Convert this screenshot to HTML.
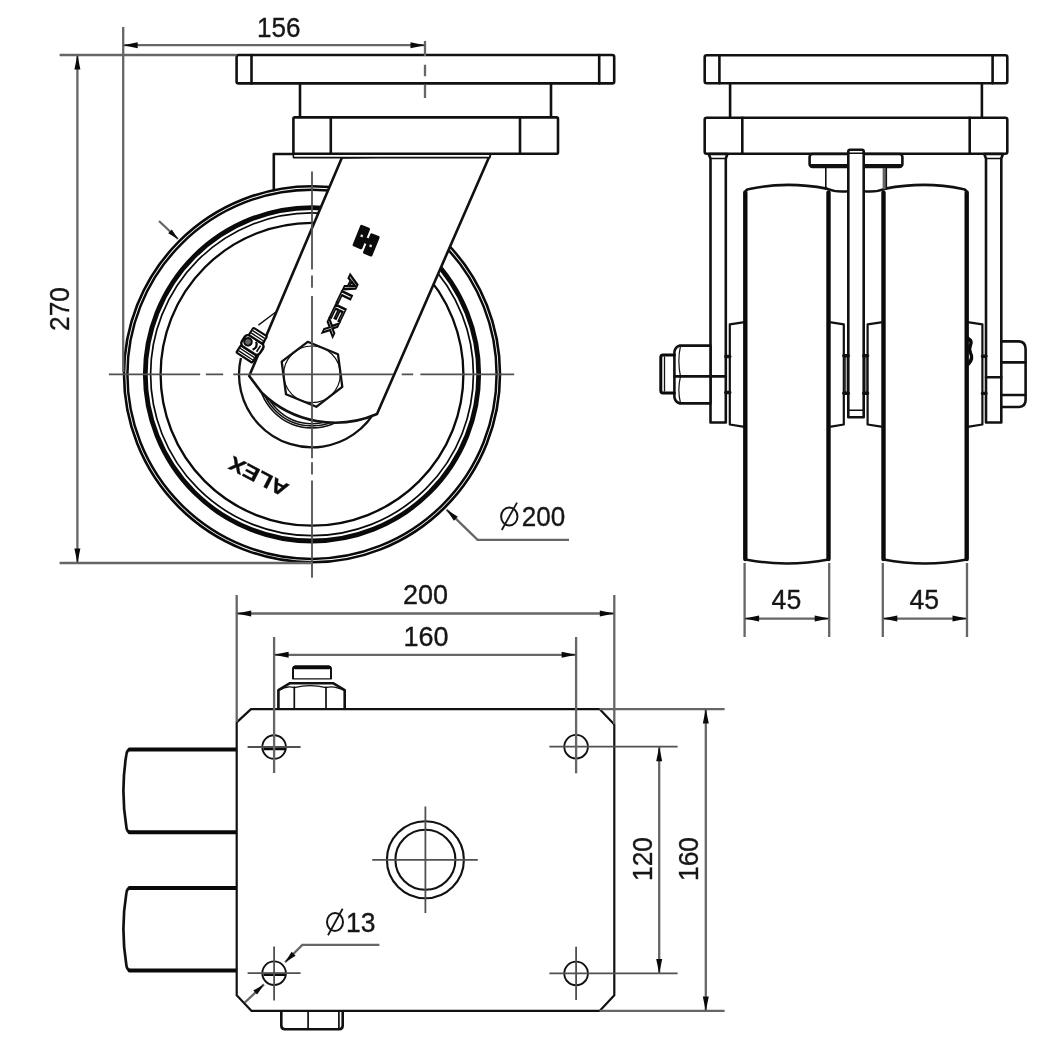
<!DOCTYPE html>
<html><head><meta charset="utf-8"><title>Caster drawing</title>
<style>
html,body{margin:0;padding:0;background:#fff;}
body{width:1042px;height:1060px;overflow:hidden;font-family:"Liberation Sans",sans-serif;}
svg{display:block;filter:grayscale(1) blur(0.45px);}
.m{fill:none;stroke:#111;stroke-width:2.6;stroke-linejoin:round;stroke-linecap:round;}
.mw{fill:#fff;stroke:#111;stroke-width:2.6;stroke-linejoin:round;}
.k{fill:none;stroke:#0a0a0a;stroke-width:3.2;stroke-linecap:round;stroke-linejoin:round;}
.t{fill:none;stroke:#111;stroke-width:1.4;}
.d{fill:none;stroke:#666;stroke-width:2.3;}
.c{fill:none;stroke:#505050;stroke-width:1.8;}
.ah{fill:#0a0a0a;stroke:none;}
text{font-family:"Liberation Sans",sans-serif;fill:#161616;stroke:#161616;stroke-width:0.35px;}
.n{font-size:27px;}
</style></head><body>
<svg width="1042" height="1060" viewBox="0 0 1042 1060">
<rect width="1042" height="1060" fill="#fff"/>

<g id="side">
<path class="m" d="M293.4,154 H273.8 V190"/>
<circle cx="312.0" cy="374.3" r="188.0" fill="none" stroke="#0a0a0a" stroke-width="2.6"/>
<circle cx="312.0" cy="374.3" r="184.6" fill="none" stroke="#0a0a0a" stroke-width="2.5"/>
<circle cx="312.0" cy="374.3" r="166.7" fill="none" stroke="#0a0a0a" stroke-width="4.8"/>
<circle cx="312.0" cy="374.3" r="161.4" fill="none" stroke="#0a0a0a" stroke-width="1.7"/>
<circle cx="312.0" cy="374.3" r="151.4" fill="none" stroke="#0a0a0a" stroke-width="2.3"/>
<path d="M240.9,357.9 A73,73 0 1 0 375.2,337.8" fill="none" stroke="#111" stroke-width="2.3"/>
<circle cx="312.0" cy="374.3" r="49.5" fill="none" stroke="#111" stroke-width="1.6"/>
<circle cx="312.0" cy="374.3" r="51.6" fill="none" stroke="#111" stroke-width="1.6"/>
<circle cx="312.0" cy="374.3" r="53.6" fill="none" stroke="#111" stroke-width="1.6"/>
<path class="t" d="M258.4,325.1 L275.5,312.2"/>
<path class="mw" d="M342,157.5 L249.2,376 L262,393 A105,105 0 0 0 377,414 L490.2,154.5 Z"/>
<rect class="mw" x="293.4" y="154" width="196.5" height="3.6" style="stroke-width:1.6px"/>
<rect class="mw" x="236.6" y="55" width="377.6" height="28.4" rx="2"/>
<path class="m" d="M251.5,55 V83.4 M599.2,55 V83.4"/>
<path class="m" d="M300,83.4 V117.4 M551,83.4 V117.4"/>
<rect class="mw" x="293.4" y="117.4" width="264.6" height="36.4" rx="1.5"/>
<path class="m" d="M330.8,117.4 V153.8 M520,117.4 V153.8"/>
<polygon class="mw" style="stroke-width:2.3px" points="307.7,341.8 338.0,354.3 342.3,386.9 316.3,406.8 286.0,394.3 281.7,361.7"/>
<circle cx="312.0" cy="374.3" r="28.3" fill="none" stroke="#111" stroke-width="1.2"/>
<g transform="translate(254,342.5) rotate(-57) scale(0.9)">
<rect x="-20" y="-10.5" width="9.5" height="21" rx="1.5" fill="#fff" stroke="#0a0a0a" stroke-width="2.4"/>
<path d="M-17,-9.5 V9.5 M-13.8,-9.5 V9.5" stroke="#0a0a0a" stroke-width="1.5"/>
<rect x="-10.5" y="-12" width="14.5" height="24" rx="4.5" fill="#fff" stroke="#0a0a0a" stroke-width="2.8"/>
<circle cx="-3" cy="-6" r="4.2" fill="#666" stroke="#0a0a0a" stroke-width="2.2"/>
<path d="M-7.5,3 Q-2,7 2,1.5" stroke="#0a0a0a" stroke-width="2.4" fill="none"/>
<path d="M-7,8 H1" stroke="#0a0a0a" stroke-width="1.8"/>
<rect x="4" y="-9.5" width="9.5" height="18" rx="1.5" fill="#fff" stroke="#0a0a0a" stroke-width="2.3"/>
<path d="M7.2,-8.5 V7.5 M10.3,-8.5 V7.5" stroke="#0a0a0a" stroke-width="1.5"/>
</g>
<text transform="translate(290,485) rotate(207.4)" font-size="20" font-weight="bold" textLength="64" lengthAdjust="spacingAndGlyphs" style="fill:#0a0a0a">ALEX</text>
<text transform="translate(350.2,274) rotate(115.6)" font-size="16.5" font-weight="bold" textLength="65" lengthAdjust="spacingAndGlyphs" style="fill:#fff;stroke:#0a0a0a;stroke-width:1.7px">ALEX</text>
<g transform="translate(367,241) rotate(22)" fill="#0a0a0a">
<rect x="-12" y="-13" width="10.5" height="23" rx="1.5"/>
<rect x="0.5" y="-9" width="10" height="22" rx="1.5"/>
<rect x="-2" y="-3" width="3" height="6"/>
<rect x="-8" y="-4" width="2.4" height="2.4" fill="#ddd"/>
<rect x="4" y="2" width="2.4" height="2.4" fill="#ddd"/>
</g>
<path class="c" d="M108.9,374.3 H200.2 M205.9,374.3 H223.2 M233.3,374.3 H393 M401.7,374.3 H413.2 M420.4,374.3 H514.2"/>
<path class="c" d="M312.0,171.4 V269.5 M312.0,275.6 V287.8 M312.0,295.9 V458.2 M312.0,462.2 V474.4 M312.0,480.5 V577.8"/>
</g>
<g id="sidedims">
<path class="d" d="M59.6,55 H236.6 M59.6,563 H312 M77.4,55 V563 M123.2,27 V372 M123.2,45.2 H425 M425,41 V56"/>
<path class="d" d="M425,64.8 V76.3 M425,85 V98"/>
<polygon class="ah" points="77.4,55.0 80.4,69.5 74.4,69.5"/>
<polygon class="ah" points="77.4,563.0 74.4,548.5 80.4,548.5"/>
<polygon class="ah" points="123.2,45.2 137.7,42.2 137.7,48.2"/>
<polygon class="ah" points="425.0,45.2 410.5,48.2 410.5,42.2"/>
<text class="n" x="257" y="36.9" textLength="43.5" lengthAdjust="spacingAndGlyphs">156</text>
<text class="n" transform="translate(69.2,331) rotate(-90)" textLength="44" lengthAdjust="spacingAndGlyphs">270</text>
<path class="d" d="M159,221 L178,239"/>
<polygon class="ah" points="178.0,239.0 168.2,233.3 171.8,229.5"/>
<path class="d" d="M446.5,509.6 L477.6,539.8 H569"/>
<polygon class="ah" points="446.5,509.6 457.8,516.7 453.9,520.7"/>
<ellipse cx="509.3" cy="516.5" rx="8.2" ry="9" fill="none" stroke="#161616" stroke-width="2"/>
<path d="M501.8,530 L517,502.6" stroke="#161616" stroke-width="1.8" fill="none"/>
<text class="n" x="521.8" y="526" textLength="43.5" lengthAdjust="spacingAndGlyphs">200</text>
</g>
<g id="front">
<rect class="mw" x="704.7" y="55.3" width="302.6" height="28" rx="2"/>
<path class="m" d="M719.4,55.3 V83.3 M992.6,55.3 V83.3"/>
<path class="m" d="M730.1,83.3 V117.7 M981.9,83.3 V117.7"/>
<rect class="mw" x="704.7" y="117.7" width="302.6" height="36" rx="2"/>
<path class="m" d="M742.3,117.7 V153.7 M969.7,117.7 V153.7"/>
<path class="k" style="stroke-width:4.4px" d="M745.3,192.5 V559 M828.5,192.5 V559"/>
<path class="m" d="M745.3,193 Q745.3,189.6 749.3,189 Q786.9,181 826.5,188.6"/>
<path class="m" style="stroke-width:2.4px" d="M745.3,559.5 Q786.9,567.5 828.5,559.5"/>
<path class="k" style="stroke-width:4.4px" d="M883.5,192.5 V559 M966.7,192.5 V559"/>
<path class="m" d="M966.7,193 Q966.7,189.6 962.7,189 Q925.1,181 885.5,188.6"/>
<path class="m" style="stroke-width:2.4px" d="M883.5,559.5 Q925.1,567.5 966.7,559.5"/>
<path class="m" d="M826.5,188.6 Q836,192.6 848.3,191.2 M885.5,188.6 Q876,192.6 863.7,191.2"/>
<rect class="mw" x="809.6" y="154" width="92.8" height="13" rx="3"/>
<path d="M811,165.8 H901" stroke="#111" stroke-width="3.6" fill="none"/>
<path class="m" style="stroke-width:1.6px" d="M825.8,168 V189"/>
<path d="M884.6,168 V189" stroke="#666" stroke-width="4" fill="none"/><path class="m" style="stroke-width:1.4px" d="M886.4,168 V189"/>
<path class="mw" d="M848.3,417.3 V151.4 Q848.3,149.8 850,149.8 H862 Q863.7,149.8 863.7,151.4 V417.3 Z"/>
<path class="m" style="stroke-width:1.5px" d="M848.3,153.2 H863.7 M848.3,410.2 H863.7"/>
<path class="mw" d="M708.7,154 H727.5 L725.8,158.5 V422.5 H710.5 V158.5 Z"/>
<path class="m" style="stroke-width:1.3px" d="M710.5,158.5 H725.8"/>
<path class="mw" d="M984.2,154 H1003.0 L1001.3,158.5 V422.5 H986.0 V158.5 Z"/>
<path class="m" style="stroke-width:1.3px" d="M986.0,158.5 H1001.3"/>
<path class="m" style="stroke-width:2.2px" d="M744.5,322.2 L729.8,324.3 V424.5 L744.5,426.8"/>
<path class="m" style="stroke-width:2.2px" d="M829.5,322.2 L843.8,324.3 V424.5 L829.5,426.8"/>
<path class="m" style="stroke-width:2.2px" d="M882.8,322.2 L867.6,324.3 V424.5 L882.8,426.8"/>
<path class="m" style="stroke-width:2.2px" d="M967.5,322.2 L982.4,324.3 V424.5 L967.5,426.8"/>
<path class="m" style="stroke-width:3.4px" stroke-linecap="butt" d="M725.8,356.5 H729.8 M725.8,392.5 H729.8 M843.8,355.8 H848.3 M843.8,393.2 H848.3 M863.7,355.8 H867.6 M863.7,393.2 H867.6 M982.4,356.2 H986 M982.4,393.4 H986"/>
<path class="m" style="stroke-width:1.1px" d="M845.8,355.8 V393.2 M866,355.8 V393.2"/>
<path class="mw" d="M710.5,345.6 H680 Q675,347 674.4,352 V397 Q675,402 680,403.4 H710.5 Z"/>
<path class="m" d="M674.4,376.4 H725.8"/>
<path class="m" style="stroke-width:1.2px" d="M680.5,345.8 Q677.2,361 680.5,376.4 Q677.2,390 680.5,403.2"/>
<path class="k" style="stroke-width:3px" d="M674.4,355 H663 Q660.8,355 660.8,357.5 V390.5 Q660.8,393 663,393 H674.4"/>
<path class="m" style="stroke-width:1.3px" d="M664.5,357 V391"/>
<path class="mw" d="M1001.3,341.4 H1019 Q1025.6,342 1025.6,349 V400 Q1025.6,406.6 1019,407 H1001.3 Z"/>
<path class="m" d="M1001.3,362.4 H1025.6 M1001.3,395 H1025.6 M986,377.2 H1001.3"/>
<path d="M967.5,338 q5,3 3,7 q-2,4 0,8 q3,5 -2,11" stroke="#0a0a0a" stroke-width="3.4" fill="none" stroke-linecap="round"/>
</g>
<g id="frontdims">
<path class="d" d="M744.6,563 V637 M829.2,563 V637 M882.8,563 V637 M967,563 V637 M744.6,618.6 H829.2 M882.8,618.6 H967"/>
<polygon class="ah" points="744.6,618.6 759.1,615.6 759.1,621.6"/>
<polygon class="ah" points="829.2,618.6 814.7,621.6 814.7,615.6"/>
<polygon class="ah" points="882.8,618.6 897.3,615.6 897.3,621.6"/>
<polygon class="ah" points="967.0,618.6 952.5,621.6 952.5,615.6"/>
<text class="n" x="771.6" y="609.2" textLength="29.6" lengthAdjust="spacingAndGlyphs">45</text>
<text class="n" x="909.4" y="609.2" textLength="29.6" lengthAdjust="spacingAndGlyphs">45</text>
</g>
<g id="plan">
<path class="m" style="stroke-width:2.7px" d="M131,749.4 Q127,749.4 126.4,754.4 Q120.4,790.8499999999999 126.4,827.3 Q127,832.3 131,832.3"/>
<path class="k" style="stroke-width:4px" stroke-linecap="butt" d="M236.7,749.4 H129.5 M129.5,832.3 H236.7"/>
<path class="m" style="stroke-width:2.7px" d="M131,887.9 Q127,887.9 126.4,892.9 Q120.4,929.15 126.4,965.4 Q127,970.4 131,970.4"/>
<path class="k" style="stroke-width:4px" stroke-linecap="butt" d="M236.7,887.9 H129.5 M129.5,970.4 H236.7"/>
<path class="mw" style="stroke-width:2px" d="M293,678.9 V669 Q293,666.6 296,666.6 H328 Q331,666.6 331,669 V678.9"/><path d="M295,667.4 H329" stroke="#0a0a0a" stroke-width="3.6" fill="none" stroke-linecap="round"/>
<path class="mw" d="M278.4,709 V690 L290,683.2 H333 L344.7,690 V709"/>
<path class="m" style="stroke-width:1.7px" d="M294.3,687 V709 M326,687 V709"/>
<path class="m" style="stroke-width:1.2px" d="M279,690.5 Q286.5,685.2 294.3,687.6 Q310,683.6 326,687.6 Q334,685.2 344,690.5 M293,678.9 H331"/>
<path class="mw" d="M281.3,1010.8 V1025.6 Q281.3,1029.3 285,1029.3 H339 Q342.7,1029.3 342.7,1025.6 V1010.8"/>
<path class="m" style="stroke-width:1.7px" d="M308.1,1010.8 V1029 M338.9,1010.8 V1029"/>
<path class="mw" style="stroke-width:2.2px" d="M251,709.1 H599.6 L614.3,724.6 V995.3 L599.6,1010.9 H251.6 L236.7,995.3 V722.4 Z"/>
<circle cx="274.1" cy="747.0" r="11.8" fill="#fff" stroke="#111" stroke-width="1.9"/>
<circle cx="576.1" cy="746.7" r="11.8" fill="#fff" stroke="#111" stroke-width="1.9"/>
<circle cx="274.1" cy="973.2" r="11.8" fill="#fff" stroke="#111" stroke-width="1.9"/>
<circle cx="576.1" cy="973.4" r="11.8" fill="#fff" stroke="#111" stroke-width="1.9"/>
<path d="M263.5,748.6 H285 M263.5,974.4 H285" stroke="#0a0a0a" stroke-width="3.4" fill="none"/>
<circle cx="425.4" cy="859.8" r="38.5" fill="none" stroke="#111" stroke-width="2.1"/>
<circle cx="425.4" cy="859.8" r="30" fill="none" stroke="#111" stroke-width="2.1"/>
<path class="c" d="M372.2,859.8 H477.8 M425.4,806.5 V913 M247.6,747 H300.6 M247.6,973.2 H300.6 M274.1,946.4 V1000.5 M576.1,946.7 V1000.1 M549.4,746.7 H677.6 M549.4,973.4 H677.6"/>
</g>
<g id="plandims">
<path class="d" d="M236.7,595 V722 M614.3,595 V724 M236.7,613.5 H614.3 M274.1,637 V773 M576.1,637 V773.3 M274.1,654.8 H576.1"/>
<polygon class="ah" points="236.7,613.5 251.2,610.5 251.2,616.5"/>
<polygon class="ah" points="614.3,613.5 599.8,616.5 599.8,610.5"/>
<polygon class="ah" points="274.1,654.8 288.6,651.8 288.6,657.8"/>
<polygon class="ah" points="576.1,654.8 561.6,657.8 561.6,651.8"/>
<path class="d" d="M599.6,709.1 H724.6 M599.6,1010.9 H724.6 M659.2,746.7 V973.4 M705.8,709.1 V1010.9"/>
<polygon class="ah" points="659.2,746.7 662.2,761.2 656.2,761.2"/>
<polygon class="ah" points="659.2,973.4 656.2,958.9 662.2,958.9"/>
<polygon class="ah" points="705.8,709.1 708.8,723.6 702.8,723.6"/>
<polygon class="ah" points="705.8,1010.9 702.8,996.4 708.8,996.4"/>
<text class="n" x="403" y="604.3" textLength="45" lengthAdjust="spacingAndGlyphs">200</text>
<text class="n" x="403.5" y="645.8" textLength="45" lengthAdjust="spacingAndGlyphs">160</text>
<text class="n" transform="translate(651.6,881) rotate(-90)" textLength="44" lengthAdjust="spacingAndGlyphs">120</text>
<text class="n" transform="translate(698.3,881) rotate(-90)" textLength="44" lengthAdjust="spacingAndGlyphs">160</text>
<path class="d" d="M285.1,962.2 L302.3,944.9 H379.4 M264,984.4 L244.8,1002.5"/>
<polygon class="ah" points="285.1,962.2 291.6,951.7 295.6,955.7"/>
<polygon class="ah" points="264.0,984.4 257.1,994.6 253.3,990.5"/>
<ellipse cx="335" cy="922" rx="8" ry="9" fill="none" stroke="#161616" stroke-width="2"/>
<path d="M328,935.2 L342.6,908.8" stroke="#161616" stroke-width="1.8" fill="none"/>
<text class="n" x="346" y="932" textLength="29.5" lengthAdjust="spacingAndGlyphs">13</text>
</g>
</svg></body></html>
